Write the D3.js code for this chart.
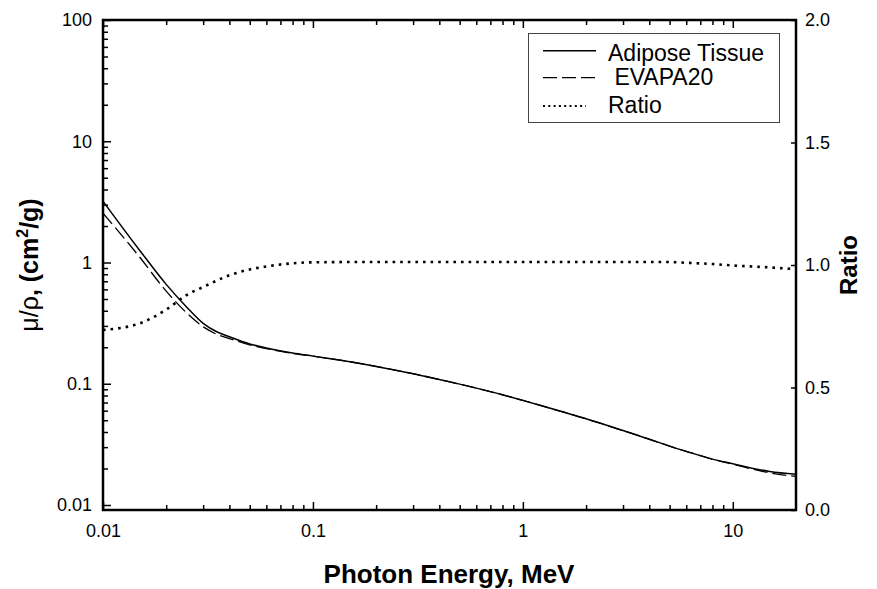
<!DOCTYPE html>
<html>
<head>
<meta charset="utf-8">
<script src="https://cdn.jsdelivr.net/npm/d3@7"></script>
<style>
  html, body { margin: 0; padding: 0; background: #fff; }
  svg { display: block; font-family: "Liberation Sans", Arial, Helvetica, sans-serif; }
</style>
</head>
<body>
<svg id="chart" width="877" height="589"></svg>
<script>
// ---- data ----
const energyAdipose = [0.01, 0.015, 0.02, 0.025, 0.03, 0.035, 0.04, 0.05, 0.06, 0.08, 0.1, 0.15, 0.2, 0.3, 0.4, 0.5, 0.6, 0.8, 1, 1.25, 1.5, 2, 3, 4, 5, 6, 8, 10, 15, 20];
const adiposeValues = [3.2, 1.25, 0.66, 0.43, 0.315, 0.267, 0.244, 0.213, 0.197, 0.179, 0.169, 0.152, 0.139, 0.121, 0.1085, 0.0993, 0.092, 0.0811, 0.0729, 0.0653, 0.0595, 0.0514, 0.0411, 0.0349, 0.0306, 0.0277, 0.0239, 0.0219, 0.0189, 0.0179];
const evapaValues   = [2.55, 1.1, 0.58, 0.385, 0.295, 0.255, 0.236, 0.209, 0.195, 0.178, 0.169, 0.152, 0.139, 0.121, 0.1085, 0.0993, 0.092, 0.0811, 0.0729, 0.0653, 0.0595, 0.0514, 0.0411, 0.0349, 0.0306, 0.0277, 0.0239, 0.0217, 0.0184, 0.0172];
const energyRatio = [0.01, 0.015, 0.02, 0.025, 0.03, 0.04, 0.05, 0.06, 0.08, 0.1, 0.15, 0.2, 0.3, 0.5, 1, 2, 3, 4, 5, 6, 8, 10, 15, 20];
const ratioValues = [0.735, 0.762, 0.818, 0.877, 0.91, 0.958, 0.982, 0.994, 1.007, 1.011, 1.012, 1.012, 1.012, 1.012, 1.012, 1.012, 1.012, 1.012, 1.012, 1.009, 1.004, 0.998, 0.99, 0.983];

const xMajorTicks = [0.01, 0.1, 1, 10];
const yLeftTicks = [0.01, 0.1, 1, 10, 100];
const yRightTicks = [0, 0.5, 1.0, 1.5, 2.0];
const legendLabels = ["Adipose Tissue", " EVAPA20", "Ratio"];

// ---- layout ----
const L = 103, R = 796, T = 20, B = 510;
const svg = d3.select("#chart");

const x = d3.scaleLog().domain([0.01, 20]).range([L, R]);
const yL = d3.scaleLog().domain([0.01, 100]).range([505, T]);
const yR = d3.scaleLinear().domain([0, 2]).range([B, T]);

const isMajor = v => Math.abs(Math.log10(v) - Math.round(Math.log10(v))) < 1e-9;
const xMinor = x.ticks().filter(v => !isMajor(v) && v < 20);
const yMinor = yL.ticks().filter(v => !isMajor(v));
const fmt = d => String(+d.toPrecision(3));

function styleAxis(g) {
  g.select(".domain").remove();
  g.selectAll(".tick line").attr("stroke", "#000").attr("stroke-width", 1.5);
  g.selectAll(".tick text").attr("fill", "#000").attr("font-size", 18)
   .attr("font-family", "Liberation Sans, Arial, sans-serif");
}

// bottom axis
svg.append("g").attr("transform", `translate(0,${B})`)
  .call(d3.axisBottom(x).tickValues(xMajorTicks).tickSize(-8).tickPadding(14).tickFormat(fmt))
  .call(styleAxis);
svg.append("g").attr("transform", `translate(0,${B})`)
  .call(d3.axisBottom(x).tickValues(xMinor).tickSize(-5).tickFormat(""))
  .call(styleAxis);
// top axis
svg.append("g").attr("transform", `translate(0,${T})`)
  .call(d3.axisTop(x).tickValues(xMajorTicks).tickSize(-8).tickFormat(""))
  .call(styleAxis);
svg.append("g").attr("transform", `translate(0,${T})`)
  .call(d3.axisTop(x).tickValues(xMinor).tickSize(-5).tickFormat(""))
  .call(styleAxis);
// left axis
svg.append("g").attr("transform", `translate(${L},0)`)
  .call(d3.axisLeft(yL).tickValues(yLeftTicks).tickSize(-8).tickPadding(11).tickFormat(fmt))
  .call(styleAxis);
svg.append("g").attr("transform", `translate(${L},0)`)
  .call(d3.axisLeft(yL).tickValues(yMinor).tickSize(-5).tickFormat(""))
  .call(styleAxis);
// right axis
svg.append("g").attr("transform", `translate(${R},0)`)
  .call(d3.axisRight(yR).tickValues(yRightTicks).tickSize(-5).tickPadding(9).tickFormat(d3.format(".1f")))
  .call(styleAxis);

// frame
svg.append("rect").attr("x", L).attr("y", T).attr("width", R - L).attr("height", B - T)
  .attr("fill", "none").attr("stroke", "#000").attr("stroke-width", 2.5);

// clip
svg.append("clipPath").attr("id", "clip").append("rect")
  .attr("x", L).attr("y", T).attr("width", R - L).attr("height", B - T);

const plot = svg.append("g").attr("clip-path", "url(#clip)");
const lineL = d3.line().curve(d3.curveMonotoneX);

plot.append("path")
  .attr("d", lineL(energyAdipose.map((e, i) => [x(e), yL(adiposeValues[i])])))
  .attr("fill", "none").attr("stroke", "#000").attr("stroke-width", 1.5);
plot.append("path")
  .attr("d", lineL(energyAdipose.map((e, i) => [x(e), yL(evapaValues[i])])))
  .attr("fill", "none").attr("stroke", "#000").attr("stroke-width", 1.3)
  .attr("stroke-dasharray", "14 5");
plot.append("path")
  .attr("d", lineL(energyRatio.map((e, i) => [x(e), yR(ratioValues[i])])))
  .attr("fill", "none").attr("stroke", "#000").attr("stroke-width", 2.6)
  .attr("stroke-dasharray", "2.6 5");

// legend
const lg = svg.append("g");
lg.append("rect").attr("x", 528.5).attr("y", 33.5).attr("width", 251).attr("height", 89)
  .attr("fill", "#fff").attr("stroke", "#444").attr("stroke-width", 1);
const legendStyles = [
  { dash: null, w: 1.5, y: 50.7, x2: 596, ty: 61 },
  { dash: "14 5", w: 1.3, y: 77.7, x2: 595, ty: 85 },
  { dash: "2 3.3", w: 2.2, y: 106, x2: 586, ty: 113 }
];
legendLabels.forEach((lab, i) => {
  const s = legendStyles[i];
  lg.append("line").attr("x1", 543).attr("x2", s.x2).attr("y1", s.y).attr("y2", s.y)
    .attr("stroke", "#000").attr("stroke-width", s.w)
    .attr("stroke-dasharray", s.dash);
  lg.append("text").attr("x", 608).attr("y", s.ty).attr("font-size", 23)
    .attr("xml:space", "preserve").style("white-space", "pre").text(lab);
});

// axis titles
svg.append("text").attr("x", 449).attr("y", 583).attr("text-anchor", "middle")
  .attr("font-size", 26).attr("font-weight", "bold").text("Photon Energy, MeV");

const yt = svg.append("text").attr("transform", "translate(38,265) rotate(-90)")
  .attr("text-anchor", "middle").attr("font-size", 25).attr("font-weight", "bold");
yt.append("tspan").attr("font-weight", "normal").text("μ/ρ");
yt.append("tspan").text(", (cm");
yt.append("tspan").attr("font-size", 16).attr("dy", -10).text("2");
yt.append("tspan").attr("dy", 10).text("/g)");

svg.append("text").attr("transform", "translate(857,265) rotate(-90)")
  .attr("text-anchor", "middle").attr("font-size", 24).attr("font-weight", "bold").text("Ratio");
</script>
</body>
</html>
